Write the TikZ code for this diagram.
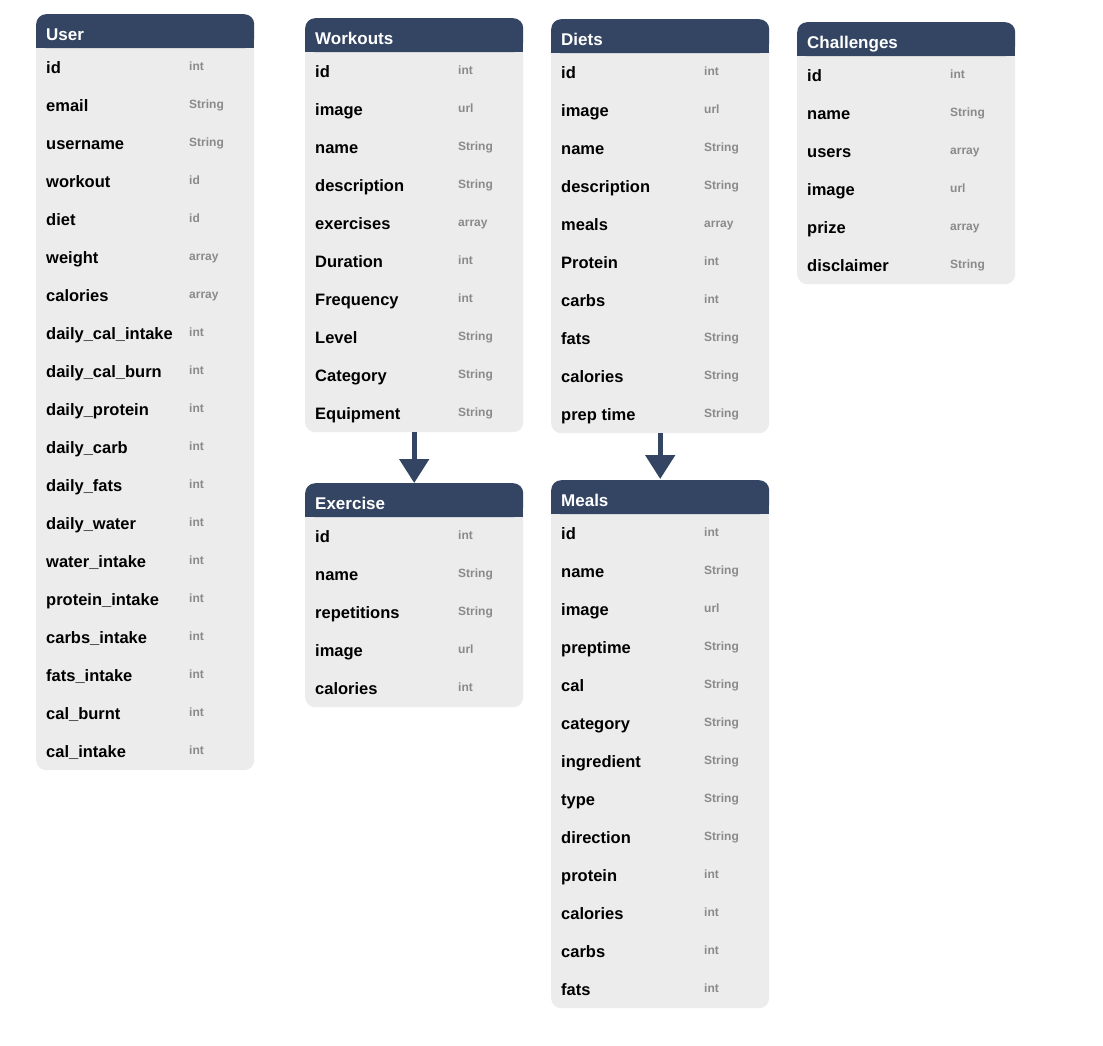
\documentclass[tikz,border=0pt]{standalone}
\usepackage{fontspec}
\setmainfont{Liberation Sans}
\usetikzlibrary{arrows.meta}
\definecolor{navy}{HTML}{344563}
\definecolor{bodygray}{HTML}{ECECEC}
\definecolor{typegray}{HTML}{8A8A8A}
\tikzset{
  tablebody/.style={fill=bodygray, draw=none, rounded corners=10pt, inner sep=0pt, minimum width=218pt, anchor=north west},
  tablehead/.style={fill=navy, draw=none, rounded corners=10pt, inner sep=0pt, minimum width=218pt, minimum height=34pt, anchor=north west},
  headtext/.style={text=white, font=\bfseries\fontsize{17}{19}\selectfont, inner sep=0pt, anchor=base west},
  nametext/.style={text=black, font=\bfseries\fontsize{16.5}{18}\selectfont, inner sep=0pt, anchor=base west},
  typetext/.style={text=typegray, font=\bfseries\fontsize{12}{14}\selectfont, inner sep=0pt, anchor=base west},
  relarrow/.style={draw=navy, line width=5pt, -{Triangle[width=29pt,length=24pt]}}
}
% #1 id, #2 x, #3 top, #4 title, #5 number of rows, #6 rows
\newcommand{\erdtable}[6]{%
  \node[tablebody, minimum height={34pt+#5*38pt}] (#1) at (#2,#3) {};
  \node[tablehead] (#1-head) at (#2,#3) {};
  \fill[navy] (#2,#3+12) rectangle (#2+218,#3+34);
  \node[headtext] (#1-title) at (#2+10,#3+26) {#4};
  \foreach \n/\t [count=\i] in {#6} {
    \node[nametext] (#1-n\i) at (#2+10,#3+34+\i*38-13) {\n};
    \node[typetext] (#1-t\i) at (#2+153,#3+34+\i*38-16) {\t};
  }
}
\begin{document}
\begin{tikzpicture}[x=1pt,y=-1pt]
\useasboundingbox[fill=white] (0,0) rectangle (1103,1045);
\erdtable{user}{36}{14}{User}{19}{id/int,email/String,username/String,workout/id,diet/id,weight/array,calories/array,daily\_cal\_intake/int,daily\_cal\_burn/int,daily\_protein/int,daily\_carb/int,daily\_fats/int,daily\_water/int,water\_intake/int,protein\_intake/int,carbs\_intake/int,fats\_intake/int,cal\_burnt/int,cal\_intake/int}
\erdtable{workouts}{305}{18}{Workouts}{10}{id/int,image/url,name/String,description/String,exercises/array,Duration/int,Frequency/int,Level/String,Category/String,Equipment/String}
\erdtable{diets}{551}{19}{Diets}{10}{id/int,image/url,name/String,description/String,meals/array,Protein/int,carbs/int,fats/String,calories/String,prep time/String}
\erdtable{challenges}{797}{22}{Challenges}{6}{id/int,name/String,users/array,image/url,prize/array,disclaimer/String}
\erdtable{exercise}{305}{483}{Exercise}{5}{id/int,name/String,repetitions/String,image/url,calories/int}
\erdtable{meals}{551}{480}{Meals}{13}{id/int,name/String,image/url,preptime/String,cal/String,category/String,ingredient/String,type/String,direction/String,protein/int,calories/int,carbs/int,fats/int}
\draw[relarrow] (workouts.south) -- (exercise-head.north);
\draw[relarrow] (diets.south) -- ([yshift=1pt]meals-head.north);
\end{tikzpicture}
\end{document}
